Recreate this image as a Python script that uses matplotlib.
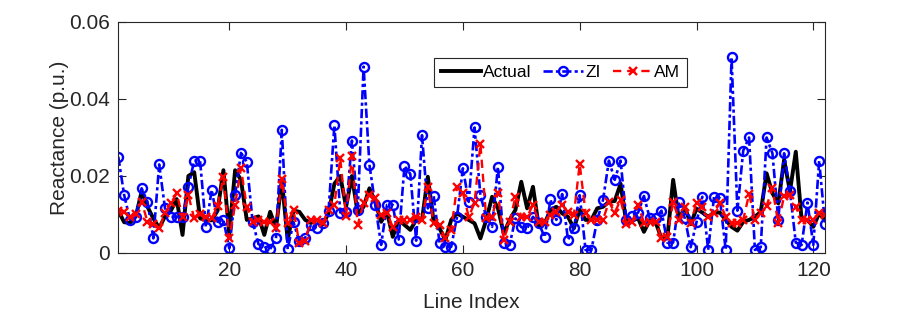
import numpy as np
import matplotlib
matplotlib.use('Agg')
import matplotlib.pyplot as plt
from matplotlib.ticker import FuncFormatter

# reactance per line
actual = [0.011, 0.008, 0.0078, 0.0095, 0.016, 0.012, 0.009, 0.0065, 0.0095, 0.011,
          0.014, 0.0047, 0.020, 0.021, 0.009, 0.0085, 0.0085, 0.011, 0.0215, 0.005,
          0.0215, 0.019, 0.0086, 0.009, 0.0095, 0.0047, 0.0107, 0.0064, 0.019, 0.0034,
          0.011, 0.0107, 0.0086, 0.0078, 0.0086, 0.0074, 0.0103, 0.018, 0.020, 0.012,
          0.020, 0.0103, 0.012, 0.0168, 0.0133, 0.0081, 0.0107, 0.0042, 0.0086, 0.0073,
          0.006, 0.0086, 0.0086, 0.0198, 0.0081, 0.0064, 0.0034, 0.0086, 0.0103, 0.0094,
          0.0086, 0.0077, 0.0038, 0.0086, 0.0146, 0.0116, 0.0051, 0.0086, 0.0112, 0.0185,
          0.0116, 0.0172, 0.0068, 0.0077, 0.0112, 0.012, 0.0103, 0.0094, 0.0064, 0.0112,
          0.0086, 0.0086, 0.0116, 0.012, 0.0133, 0.0135, 0.018, 0.0077, 0.0085, 0.009,
          0.0055, 0.0085, 0.008, 0.0038, 0.0038, 0.019, 0.0086, 0.012, 0.0075, 0.0115,
          0.0105, 0.0094, 0.0105, 0.0105, 0.0086, 0.0068, 0.0058, 0.0081, 0.0086, 0.0094,
          0.0107, 0.0207, 0.0155, 0.0129, 0.0242, 0.016, 0.0263, 0.0086, 0.0086, 0.0068,
          0.0103, 0.0086]

zi = [0.025, 0.0151, 0.0086, 0.0094, 0.0168, 0.0133, 0.0038, 0.023, 0.0116, 0.0094,
      0.0094, 0.0094, 0.0172, 0.024, 0.024, 0.0067, 0.0164, 0.0081, 0.0086, 0.0012,
      0.015, 0.026, 0.0237, 0.0081, 0.0023, 0.0016, 0.001, 0.0038, 0.032, 0.001,
      0.008, 0.003, 0.004, 0.0073, 0.0064, 0.0077, 0.011, 0.0332, 0.0105, 0.0107,
      0.0292, 0.0112, 0.0484, 0.0229, 0.0125, 0.0021, 0.0125, 0.0125, 0.0035, 0.0226,
      0.0205, 0.0032, 0.0306, 0.0116, 0.0148, 0.0027, 0.0016, 0.0016, 0.0094, 0.022,
      0.0133, 0.0326, 0.015, 0.0094, 0.0068, 0.0224, 0.0027, 0.0021, 0.009, 0.0067,
      0.0064, 0.0094, 0.0077, 0.0041, 0.0139, 0.0086, 0.0153, 0.0034, 0.0064, 0.015,
      0.0008, 0.0008, 0.0086, 0.0138, 0.024, 0.019, 0.024, 0.0086, 0.0095, 0.0105,
      0.0148, 0.009, 0.009, 0.011, 0.0027, 0.0027, 0.0133, 0.009, 0.0015, 0.008,
      0.0146, 0.0008, 0.0146, 0.0142, 0.0008, 0.0508, 0.011, 0.0266, 0.030, 0.0008,
      0.0015, 0.030, 0.0259, 0.0086, 0.0259, 0.016, 0.0027, 0.0021, 0.0131, 0.0021,
      0.024, 0.0075]

am = [0.011, 0.0107, 0.0094, 0.0101, 0.0133, 0.0081, 0.0075, 0.0064, 0.0103, 0.0129,
      0.0155, 0.0094, 0.015, 0.009, 0.0101, 0.0093, 0.009, 0.0122, 0.0198, 0.0038,
      0.0125, 0.022, 0.012, 0.0081, 0.0086, 0.0081, 0.0081, 0.0064, 0.0191, 0.0079,
      0.0112, 0.0025, 0.0032, 0.0086, 0.0087, 0.0077, 0.0112, 0.0125, 0.0246, 0.0096,
      0.0252, 0.0073, 0.013, 0.015, 0.0142, 0.0099, 0.0105, 0.0067, 0.0086, 0.0086,
      0.0086, 0.0093, 0.0086, 0.0172, 0.0077, 0.0073, 0.0038, 0.0061, 0.0172, 0.0157,
      0.0094, 0.013, 0.0283, 0.009, 0.0093, 0.0157, 0.0035, 0.0081, 0.0146, 0.0094,
      0.0094, 0.0125, 0.0081, 0.008, 0.0099, 0.0107, 0.0125, 0.0107, 0.0099, 0.0231,
      0.0105, 0.0087, 0.0087, 0.0087, 0.0133, 0.0105, 0.0138, 0.0075, 0.0081, 0.0125,
      0.0079, 0.0081, 0.0081, 0.0038, 0.0042, 0.0133, 0.0086, 0.012, 0.0077, 0.0131,
      0.012, 0.0094, 0.0103, 0.0131, 0.0094, 0.0077, 0.0077, 0.0086, 0.0153, 0.0086,
      0.0103, 0.0122, 0.0168, 0.0077, 0.0148, 0.015, 0.0119, 0.0087, 0.0087, 0.0087,
      0.0103, 0.0099]

line_idx = np.arange(1, len(actual) + 1)

plt.rcParams['font.family'] = ['Liberation Sans', 'DejaVu Sans']
grey = '#262626'

fig = plt.figure(figsize=(9.12, 3.17), dpi=100)
ax = fig.add_axes([0.1297, 0.2019, 0.7749, 0.7287])

ax.plot(line_idx, actual, '-', color='black', lw=2.8, label='Actual')
ax.plot(line_idx, zi, color='blue', lw=1.9, dashes=(3.5, 1.2, 1.2, 1.2),
        marker='o', ms=6.5, mfc='none', mew=1.7, label='ZI')
ax.plot(line_idx, am, color='red', lw=1.7, dashes=(3.5, 2.5), marker='x', ms=6,
        mew=1.7, label='AM')

ax.set_xlim(1, 122)
ax.set_ylim(0, 0.06)
ax.set_xticks([20, 40, 60, 80, 100, 120])
ax.set_yticks([0, 0.02, 0.04, 0.06])
ax.yaxis.set_major_formatter(FuncFormatter(lambda v, p: '0' if v == 0 else '%.2f' % v))
ax.tick_params(direction='in', top=True, right=True, length=6, width=0.8,
               colors=grey, labelsize=15, pad=6)
for s in ax.spines.values():
    s.set_color(grey)
    s.set_linewidth(0.8)

ax.set_xlabel('Line Index', fontsize=15, color=grey, labelpad=9)
ax.set_ylabel('Reactance (p.u.)', fontsize=15, color=grey, labelpad=0)

leg = ax.legend(loc='center', bbox_to_anchor=(0.626, 0.781), ncol=3,
                fontsize=12.5, numpoints=1, handlelength=2.3, handletextpad=0.1,
                columnspacing=0.7, borderpad=0.4, fancybox=False, framealpha=1)
leg.get_frame().set_edgecolor(grey)
leg.get_frame().set_linewidth(0.8)

fig.savefig('out.png', dpi=100)
